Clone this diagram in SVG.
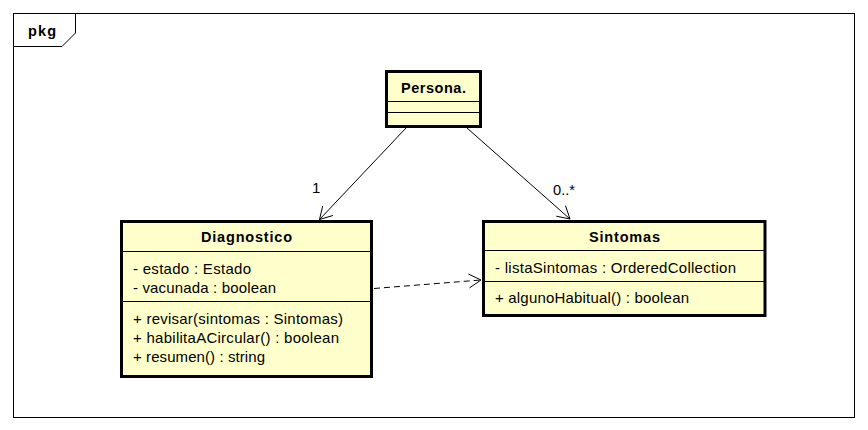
<svg xmlns="http://www.w3.org/2000/svg" width="868" height="430" viewBox="0 0 868 430">
<defs>
<style>
.frame{fill:none;stroke:#000;stroke-width:1}
.box{fill:#FFFFCC;stroke:#000;stroke-width:3}
.sep{stroke:#000;stroke-width:1}
.t{font-family:"Liberation Sans",Arial,sans-serif;font-size:15px;fill:#000}
.b{font-family:"Liberation Sans",Arial,sans-serif;font-size:14.5px;font-weight:bold;fill:#000}
.ln{fill:none;stroke:#000;stroke-width:1}
.dash{fill:none;stroke:#000;stroke-width:1;stroke-dasharray:6 4}
</style>
</defs>
<rect width="868" height="430" fill="#fff"/>
<g id="frame">
<rect class="frame" x="13.5" y="13.5" width="841" height="404"/>
<polyline class="frame" points="13.5,46.5 62,46.5 75.5,33 75.5,13.5"/>
<text class="b" x="28" y="36" textLength="28" lengthAdjust="spacing">pkg</text>
</g>
<g id="connectors">
<line class="ln" x1="406" y1="128" x2="319.5" y2="219.5"/>
<polyline class="ln" points="322.7,205.9 319.5,219.5 332.9,215.5"/>
<text class="t" x="312" y="193">1</text>
<line class="ln" x1="467" y1="128" x2="570" y2="219"/>
<polyline class="ln" points="565.5,205.7 570,219 556.3,216.2"/>
<text class="t" x="553" y="195" textLength="22" lengthAdjust="spacingAndGlyphs">0..*</text>
<line class="dash" x1="374" y1="288.5" x2="481" y2="280"/>
<polyline class="ln" points="468.4,274 481,280 469.5,287.9"/>
</g>
<g id="persona">
<rect class="box" x="386.5" y="71.5" width="94" height="55"/>
<line class="sep" x1="386" y1="101.5" x2="481" y2="101.5"/>
<line class="sep" x1="386" y1="112.5" x2="481" y2="112.5"/>
<text class="b" x="433.5" y="93" text-anchor="middle" textLength="65" lengthAdjust="spacing">Persona.</text>
</g>
<g id="diagnostico">
<rect class="box" x="121.5" y="221.5" width="250" height="155"/>
<line class="sep" x1="121" y1="251.5" x2="372" y2="251.5"/>
<line class="sep" x1="121" y1="301.5" x2="372" y2="301.5"/>
<text class="b" x="246.5" y="242" text-anchor="middle" textLength="91" lengthAdjust="spacing">Diagnostico</text>
<text class="t" x="133" y="274" textLength="118" lengthAdjust="spacing">- estado : Estado</text>
<text class="t" x="133" y="293" textLength="143" lengthAdjust="spacing">- vacunada : boolean</text>
<text class="t" x="133" y="324" textLength="210" lengthAdjust="spacing">+ revisar(sintomas : Sintomas)</text>
<text class="t" x="133" y="343" textLength="206" lengthAdjust="spacing">+ habilitaACircular() : boolean</text>
<text class="t" x="133" y="362" textLength="132" lengthAdjust="spacing">+ resumen() : string</text>
</g>
<g id="sintomas">
<rect class="box" x="483.5" y="221.5" width="281.5" height="94"/>
<line class="sep" x1="483" y1="250.5" x2="765" y2="250.5"/>
<line class="sep" x1="483" y1="281.5" x2="765" y2="281.5"/>
<text class="b" x="624.5" y="242" text-anchor="middle" textLength="71" lengthAdjust="spacing">Sintomas</text>
<text class="t" x="495" y="273" textLength="241" lengthAdjust="spacing">- listaSintomas : OrderedCollection</text>
<text class="t" x="495" y="303" textLength="194" lengthAdjust="spacing">+ algunoHabitual() : boolean</text>
</g>
</svg>
